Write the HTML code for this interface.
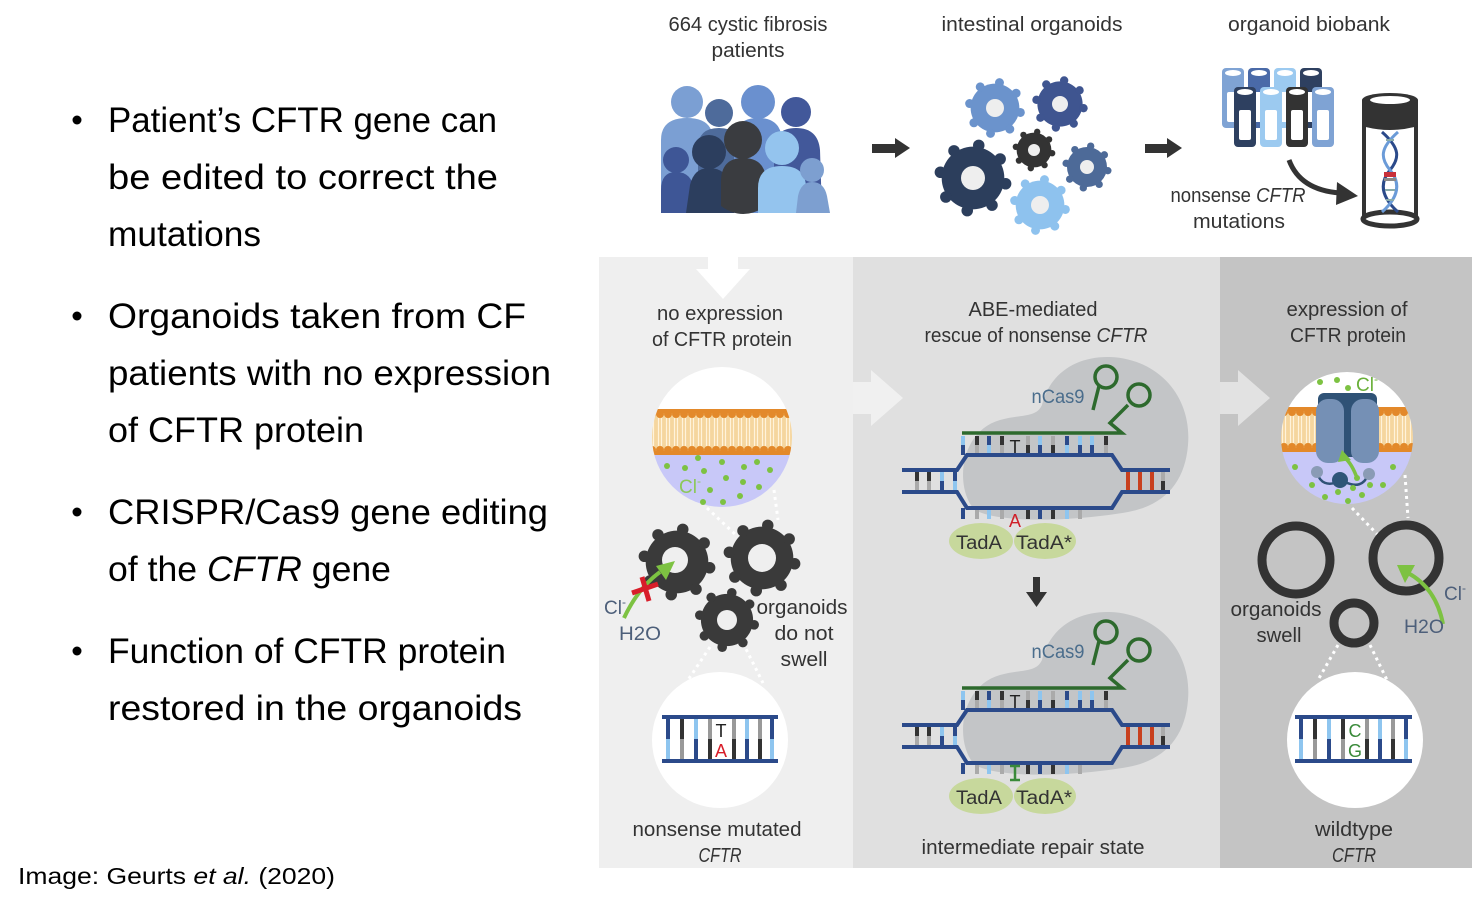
<!DOCTYPE html>
<html><head><meta charset="utf-8"><style>
html,body{margin:0;padding:0;background:#fff;}
svg{display:block;}
.l{font-family:"Liberation Sans",sans-serif;font-size:35px;fill:#000;}
.d{font-family:"Liberation Sans",sans-serif;font-size:20px;fill:#333;}
</style></head><body>
<svg width="1472" height="909" viewBox="0 0 1472 909" xmlns="http://www.w3.org/2000/svg">
<defs>
 <g id="gear">
  <circle r="0.87"/>
  <circle cx="0.906" cy="0.160" r="0.16"/>
  <circle cx="0.528" cy="0.754" r="0.16"/>
  <circle cx="-0.160" cy="0.906" r="0.16"/>
  <circle cx="-0.754" cy="0.528" r="0.16"/>
  <circle cx="-0.906" cy="-0.160" r="0.16"/>
  <circle cx="-0.528" cy="-0.754" r="0.16"/>
  <circle cx="0.160" cy="-0.906" r="0.16"/>
  <circle cx="0.754" cy="-0.528" r="0.16"/>
 </g>
 <clipPath id="c1"><circle cx="722" cy="437" r="70"/></clipPath>
 <clipPath id="c3"><circle cx="1347" cy="438" r="66"/></clipPath>
 <pattern id="m1" x="0" y="409" width="8" height="46" patternUnits="userSpaceOnUse">
  <rect width="8" height="46" fill="#f5d69e"/>
  <line x1="2.5" y1="9" x2="2.5" y2="37" stroke="#fff3da" stroke-width="1.2"/>
  <line x1="5.5" y1="9" x2="5.5" y2="37" stroke="#fff3da" stroke-width="1.2"/>
  <rect width="8" height="4" fill="#e3892a"/>
  <circle cx="4" cy="5" r="4" fill="#e3892a"/>
  <rect y="42" width="8" height="4" fill="#e3892a"/>
  <circle cx="4" cy="41" r="4" fill="#e3892a"/>
 </pattern>
 <pattern id="m3" x="0" y="407" width="8" height="45" patternUnits="userSpaceOnUse">
  <rect width="8" height="45" fill="#f5d69e"/>
  <line x1="2.5" y1="9" x2="2.5" y2="36" stroke="#fff3da" stroke-width="1.2"/>
  <line x1="5.5" y1="9" x2="5.5" y2="36" stroke="#fff3da" stroke-width="1.2"/>
  <rect width="8" height="4" fill="#e3892a"/>
  <circle cx="4" cy="5" r="4" fill="#e3892a"/>
  <rect y="41" width="8" height="4" fill="#e3892a"/>
  <circle cx="4" cy="40" r="4" fill="#e3892a"/>
 </pattern>
</defs>

<rect width="1472" height="909" fill="#fff"/>

<!-- LEFT TEXT -->
<circle cx="77" cy="120" r="4.5" fill="#000"/>
<text class="l" x="108" y="132" textLength="389" lengthAdjust="spacingAndGlyphs">Patient’s CFTR gene can</text>
<text class="l" x="108" y="189" textLength="390" lengthAdjust="spacingAndGlyphs">be edited to correct the</text>
<text class="l" x="108" y="246" textLength="153" lengthAdjust="spacingAndGlyphs">mutations</text>
<circle cx="77" cy="316" r="4.5" fill="#000"/>
<text class="l" x="108" y="328" textLength="418" lengthAdjust="spacingAndGlyphs">Organoids taken from CF</text>
<text class="l" x="108" y="385" textLength="443" lengthAdjust="spacingAndGlyphs">patients with no expression</text>
<text class="l" x="108" y="442" textLength="256" lengthAdjust="spacingAndGlyphs">of CFTR protein</text>
<circle cx="77" cy="512" r="4.5" fill="#000"/>
<text class="l" x="108" y="524" textLength="440" lengthAdjust="spacingAndGlyphs">CRISPR/Cas9 gene editing</text>
<text class="l" x="108" y="581" textLength="283" lengthAdjust="spacingAndGlyphs">of the <tspan font-style="italic">CFTR</tspan> gene</text>
<circle cx="77" cy="651" r="4.5" fill="#000"/>
<text class="l" x="108" y="663" textLength="398" lengthAdjust="spacingAndGlyphs">Function of CFTR protein</text>
<text class="l" x="108" y="720" textLength="414" lengthAdjust="spacingAndGlyphs">restored in the organoids</text>
<text x="18" y="884" font-family="Liberation Sans, sans-serif" font-size="23" fill="#000" textLength="317" lengthAdjust="spacingAndGlyphs">Image: Geurts <tspan font-style="italic">et al.</tspan> (2020)</text>

<!-- TOP SECTION -->
<text class="d" x="748" y="31" text-anchor="middle" textLength="159" lengthAdjust="spacingAndGlyphs">664 cystic fibrosis</text>
<text class="d" x="748" y="57" text-anchor="middle" textLength="73" lengthAdjust="spacingAndGlyphs">patients</text>
<text class="d" x="1032" y="31" text-anchor="middle" textLength="181" lengthAdjust="spacingAndGlyphs">intestinal organoids</text>
<text class="d" x="1309" y="31" text-anchor="middle" textLength="162" lengthAdjust="spacingAndGlyphs">organoid biobank</text>

<!-- people -->
<g>
 <circle cx="687" cy="102" r="16" fill="#7b9fd3"/><path d="M661,213 V140 Q661,118 687,118 Q713,118 713,140 V213Z" fill="#7b9fd3"/>
 <circle cx="719" cy="113" r="14" fill="#4e6b9b"/><path d="M698,213 V148 Q698,128 719,128 Q740,128 740,148 V213Z" fill="#4e6b9b"/>
 <circle cx="758" cy="102" r="17" fill="#6a90cf"/><path d="M734,213 V142 Q734,118 758,118 Q782,118 782,142 V213Z" fill="#6a90cf"/>
 <circle cx="796" cy="112" r="15" fill="#42589a"/><path d="M774,213 V150 Q774,128 796,128 Q818,128 820,150 L822,213Z" fill="#42589a"/>
 <circle cx="676" cy="160" r="13" fill="#3e5696"/><path d="M661,213 V190 Q661,172 676,172 Q692,172 694,190 V213Z" fill="#3e5696"/>
 <circle cx="709" cy="152" r="17" fill="#2c3e5e"/><path d="M686,213 L690,185 Q694,168 709,168 Q726,168 730,185 L734,213Z" fill="#2c3e5e"/>
 <circle cx="743" cy="140" r="19" fill="#3a3c40"/><path d="M721,206 V182 Q721,158 743,158 Q766,158 766,182 V206 Q743,222 721,206Z" fill="#3a3c40"/>
 <circle cx="782" cy="148" r="17" fill="#94c4ee"/><path d="M758,213 V188 Q758,166 782,166 Q806,166 806,188 V213Z" fill="#94c4ee"/>
 <circle cx="812" cy="170" r="12" fill="#7d9fd0"/><path d="M796,213 L798,196 Q801,182 812,182 Q824,182 827,196 L830,213Z" fill="#7d9fd0"/>
</g>

<!-- arrows top -->
<path d="M872,144 H895 V138 L910,148 L895,158 V153 H872Z" fill="#333"/>
<path d="M1145,144 H1167 V138 L1182,148 L1167,158 V153 H1145Z" fill="#333"/>

<!-- organoid gears top -->
<use href="#gear" transform="translate(995,108) scale(28)" fill="#6b93cc"/><circle cx="995" cy="108" r="9" fill="#eee"/>
<use href="#gear" transform="translate(1060,104) scale(26)" fill="#3f5590"/><circle cx="1060" cy="104" r="8" fill="#eee"/>
<use href="#gear" transform="translate(1034,150) scale(20)" fill="#333"/><circle cx="1034" cy="150" r="6" fill="#eee"/>
<use href="#gear" transform="translate(973,178) scale(36)" fill="#2c3e5c"/><circle cx="973" cy="178" r="12" fill="#eee"/>
<use href="#gear" transform="translate(1087,167) scale(23)" fill="#4d6a98"/><circle cx="1087" cy="167" r="7" fill="#eee"/>
<use href="#gear" transform="translate(1040,205) scale(28)" fill="#8ec2ee"/><circle cx="1040" cy="205" r="9" fill="#eee"/>

<!-- tubes -->
<g>
 <rect x="1222" y="68" width="22" height="60" rx="4" fill="#7fa3d4"/><ellipse cx="1233" cy="73" rx="8" ry="3" fill="#fff"/><rect x="1227" y="92" width="12" height="30" rx="2" fill="#fff"/>
 <rect x="1248" y="68" width="22" height="60" rx="4" fill="#4a6aa8"/><ellipse cx="1259" cy="73" rx="8" ry="3" fill="#fff"/><rect x="1253" y="92" width="12" height="30" rx="2" fill="#fff"/>
 <rect x="1274" y="68" width="22" height="60" rx="4" fill="#9ccaf0"/><ellipse cx="1285" cy="73" rx="8" ry="3" fill="#fff"/><rect x="1279" y="92" width="12" height="30" rx="2" fill="#fff"/>
 <rect x="1300" y="68" width="22" height="60" rx="4" fill="#2e4060"/><ellipse cx="1311" cy="73" rx="8" ry="3" fill="#fff"/><rect x="1305" y="92" width="12" height="30" rx="2" fill="#fff"/>
 <rect x="1234" y="87" width="22" height="60" rx="4" fill="#2e4060"/><ellipse cx="1245" cy="92" rx="8" ry="3" fill="#fff"/><rect x="1239" y="110" width="12" height="30" rx="2" fill="#fff"/>
 <rect x="1260" y="87" width="22" height="60" rx="4" fill="#9ccaf0"/><ellipse cx="1271" cy="92" rx="8" ry="3" fill="#fff"/><rect x="1265" y="110" width="12" height="30" rx="2" fill="#fff"/>
 <rect x="1286" y="87" width="22" height="60" rx="4" fill="#333"/><ellipse cx="1297" cy="92" rx="8" ry="3" fill="#fff"/><rect x="1291" y="110" width="12" height="30" rx="2" fill="#fff"/>
 <rect x="1312" y="87" width="22" height="60" rx="4" fill="#7fa3d4"/><ellipse cx="1323" cy="92" rx="8" ry="3" fill="#fff"/><rect x="1317" y="110" width="12" height="30" rx="2" fill="#fff"/>
</g>
<!-- big tube -->
<rect x="1364" y="115" width="52" height="105" fill="#fff" stroke="#333" stroke-width="4"/>
<path d="M1362,100 V126 Q1390,134 1418,126 V100Z" fill="#333"/>
<ellipse cx="1390" cy="100" rx="28" ry="7" fill="#333"/>
<ellipse cx="1390" cy="100" rx="20" ry="4" fill="#fff"/>
<ellipse cx="1390" cy="219" rx="27" ry="7" fill="#fff" stroke="#333" stroke-width="5"/>
<path d="M1382,132 C1400,148 1400,158 1390,170 C1380,182 1380,196 1398,212" stroke="#2b4a8a" stroke-width="3" fill="none"/>
<path d="M1398,132 C1380,148 1380,158 1390,170 C1400,182 1400,196 1382,212" stroke="#6b9bd8" stroke-width="3" fill="none"/>
<g stroke="#8aa" stroke-width="2">
 <line x1="1386" y1="140" x2="1394" y2="140"/><line x1="1385" y1="190" x2="1395" y2="190"/><line x1="1386" y1="200" x2="1394" y2="200"/>
</g>
<rect x="1384" y="172" width="12" height="5" fill="#c8303a"/>
<rect x="1384" y="178" width="12" height="3" fill="#888"/>
<path d="M1289,160 Q1300,190 1340,193" stroke="#333" stroke-width="5" fill="none"/>
<polygon points="1358,196 1337,182 1336,205" fill="#333"/>
<text class="d" x="1238" y="202" text-anchor="middle" textLength="135" lengthAdjust="spacingAndGlyphs">nonsense <tspan font-style="italic">CFTR</tspan></text>
<text class="d" x="1239" y="228" text-anchor="middle" textLength="92" lengthAdjust="spacingAndGlyphs">mutations</text>

<!-- PANELS -->
<rect x="599" y="257" width="254" height="611" fill="#efefef"/>
<rect x="853" y="257" width="367" height="611" fill="#e0e0e0"/>
<rect x="1220" y="257" width="252" height="611" fill="#c4c4c4"/>

<!-- panel1 down arrow -->
<path d="M708,257 H738 V269 H750 L723,299 L696,269 H708Z" fill="#fff"/>
<!-- arrow into panel 2 -->
<path d="M853,382 H871 V370 L903,398 L871,426 V414 H853Z" fill="#f0f0f0"/>
<!-- arrow into panel 3 -->
<path d="M1220,382 H1238 V370 L1270,398 L1238,426 V414 H1220Z" fill="#e2e2e2"/>

<!-- PANEL 1 -->
<text class="d" x="720" y="320" text-anchor="middle" textLength="126" lengthAdjust="spacingAndGlyphs">no expression</text>
<text class="d" x="722" y="346" text-anchor="middle" textLength="140" lengthAdjust="spacingAndGlyphs">of CFTR protein</text>
<g clip-path="url(#c1)">
 <rect x="650" y="365" width="145" height="44" fill="#fff"/>
 <rect x="650" y="409" width="145" height="46" fill="url(#m1)"/>
 <rect x="650" y="455" width="145" height="55" fill="#c8c8f8"/>
</g>
<g fill="#7dc242">
 <circle cx="667" cy="466" r="3"/><circle cx="685" cy="468" r="3"/><circle cx="698" cy="458" r="3"/><circle cx="704" cy="471" r="3"/>
 <circle cx="722" cy="462" r="3"/><circle cx="726" cy="478" r="3"/><circle cx="744" cy="467" r="3"/><circle cx="757" cy="462" r="3"/>
 <circle cx="770" cy="470" r="3"/><circle cx="743" cy="482" r="3"/><circle cx="759" cy="487" r="3"/><circle cx="710" cy="490" r="3"/>
 <circle cx="740" cy="496" r="3"/><circle cx="703" cy="502" r="3"/><circle cx="723" cy="502" r="3"/>
</g>
<text x="679" y="493" font-family="Liberation Sans, sans-serif" font-size="19" fill="#8cc85a">Cl<tspan dy="-8" font-size="12">-</tspan></text>
<g stroke="#fff" stroke-width="3" stroke-dasharray="3,4">
 <line x1="707" y1="508" x2="737" y2="536"/><line x1="774" y1="490" x2="778" y2="520"/>
 <line x1="710" y1="647" x2="688" y2="680"/><line x1="743" y1="643" x2="763" y2="683"/>
</g>
<use href="#gear" transform="translate(677,562) scale(36)" fill="#3a3a3a"/><circle cx="675" cy="560" r="13" fill="#efefef"/>
<use href="#gear" transform="translate(762,558) scale(36)" fill="#3a3a3a"/><circle cx="762" cy="558" r="14" fill="#efefef"/>
<use href="#gear" transform="translate(727,620) scale(30)" fill="#3a3a3a"/><circle cx="727" cy="620" r="10" fill="#efefef"/>
<path d="M624,618 Q638,588 660,572" stroke="#7dc242" stroke-width="4" fill="none"/>
<polygon points="675,561 656,566 666,580" fill="#7dc242"/>
<line x1="632" y1="593" x2="658" y2="584" stroke="#d81e2a" stroke-width="5"/>
<line x1="642" y1="577" x2="649" y2="601" stroke="#d81e2a" stroke-width="5"/>
<text x="604" y="614" font-family="Liberation Sans, sans-serif" font-size="19" fill="#4d5f7a">Cl<tspan dy="-8" font-size="12">-</tspan></text>
<text x="619" y="640" font-family="Liberation Sans, sans-serif" font-size="19" fill="#4d5f7a" textLength="42" lengthAdjust="spacingAndGlyphs">H2O</text>
<text class="d" x="802" y="614" text-anchor="middle" textLength="91" lengthAdjust="spacingAndGlyphs">organoids</text>
<text class="d" x="804" y="640" text-anchor="middle" textLength="59" lengthAdjust="spacingAndGlyphs">do not</text>
<text class="d" x="804" y="666" text-anchor="middle" textLength="47" lengthAdjust="spacingAndGlyphs">swell</text>
<circle cx="720" cy="740" r="68" fill="#fff"/>
<g transform="translate(662,717)">
 <g stroke-width="4">
  <line x1="20" y1="0" x2="20" y2="22" stroke="#333"/><line x1="20" y1="22" x2="20" y2="44" stroke="#999"/>
  <line x1="34" y1="0" x2="34" y2="22" stroke="#8ec5ef"/><line x1="34" y1="22" x2="34" y2="44" stroke="#2b4a8a"/>
  <line x1="48" y1="0" x2="48" y2="22" stroke="#999"/><line x1="48" y1="22" x2="48" y2="44" stroke="#333"/>
  <line x1="72" y1="0" x2="72" y2="22" stroke="#999"/><line x1="72" y1="22" x2="72" y2="44" stroke="#333"/>
  <line x1="85" y1="0" x2="85" y2="22" stroke="#8ec5ef"/><line x1="85" y1="22" x2="85" y2="44" stroke="#2b4a8a"/>
  <line x1="98" y1="0" x2="98" y2="22" stroke="#999"/><line x1="98" y1="22" x2="98" y2="44" stroke="#333"/>
  <line x1="6" y1="0" x2="6" y2="22" stroke="#2b4a8a"/><line x1="6" y1="22" x2="6" y2="44" stroke="#8ec5ef"/>
  <line x1="110" y1="0" x2="110" y2="22" stroke="#2b4a8a"/><line x1="110" y1="22" x2="110" y2="44" stroke="#8ec5ef"/>
  <line x1="0" y1="0" x2="116" y2="0" stroke="#2b4a8a"/><line x1="0" y1="44" x2="116" y2="44" stroke="#2b4a8a"/>
 </g>
 <text x="59" y="20" text-anchor="middle" font-family="Liberation Sans, sans-serif" font-size="18" fill="#222">T</text>
 <text x="59" y="40" text-anchor="middle" font-family="Liberation Sans, sans-serif" font-size="18" fill="#d81e2a">A</text>
</g>
<text class="d" x="717" y="836" text-anchor="middle" textLength="169" lengthAdjust="spacingAndGlyphs">nonsense mutated</text>
<text class="d" x="720" y="862" text-anchor="middle" font-style="italic" textLength="43" lengthAdjust="spacingAndGlyphs">CFTR</text>

<!-- PANEL 2 -->
<text class="d" x="1033" y="316" text-anchor="middle" textLength="129" lengthAdjust="spacingAndGlyphs">ABE-mediated</text>
<text class="d" x="1036" y="342" text-anchor="middle" textLength="223" lengthAdjust="spacingAndGlyphs">rescue of nonsense <tspan font-style="italic">CFTR</tspan></text>

<g>
 <path d="M975,510 C955,490 958,432 1000,420 C1022,414 1036,418 1042,405 C1050,372 1078,356 1110,357 C1160,359 1192,398 1188,445 C1185,482 1165,505 1128,512 C1078,521 1000,524 975,510Z" fill="#c3c5c7"/>
 <text x="1058" y="403" text-anchor="middle" font-family="Liberation Sans, sans-serif" font-size="19" fill="#4a6d8c" textLength="53" lengthAdjust="spacingAndGlyphs">nCas9</text>
 <g stroke="#2d6a2d" stroke-width="3.5" fill="none">
  <path d="M962,433 H1122 L1110,423 L1128,405"/>
  <circle cx="1139" cy="395" r="11"/>
  <circle cx="1106" cy="377" r="11"/>
  <path d="M1099,386 L1093,410"/>
 </g>
 <g stroke-width="4">
  <line x1="963" y1="436" x2="963" y2="445" stroke="#8ec5ef"/><line x1="963" y1="445" x2="963" y2="455" stroke="#2b4a8a"/>
  <line x1="977" y1="436" x2="977" y2="445" stroke="#333"/><line x1="977" y1="445" x2="977" y2="455" stroke="#aaa"/>
  <line x1="989" y1="436" x2="989" y2="445" stroke="#2b4a8a"/><line x1="989" y1="445" x2="989" y2="455" stroke="#8ec5ef"/>
  <line x1="1002" y1="436" x2="1002" y2="445" stroke="#333"/><line x1="1002" y1="445" x2="1002" y2="455" stroke="#aaa"/>
  <line x1="1028" y1="436" x2="1028" y2="445" stroke="#aaa"/><line x1="1028" y1="445" x2="1028" y2="455" stroke="#333"/>
  <line x1="1040" y1="436" x2="1040" y2="445" stroke="#8ec5ef"/><line x1="1040" y1="445" x2="1040" y2="455" stroke="#2b4a8a"/>
  <line x1="1053" y1="436" x2="1053" y2="445" stroke="#aaa"/><line x1="1053" y1="445" x2="1053" y2="455" stroke="#333"/>
  <line x1="1067" y1="436" x2="1067" y2="445" stroke="#2b4a8a"/><line x1="1067" y1="445" x2="1067" y2="455" stroke="#8ec5ef"/>
  <line x1="1080" y1="436" x2="1080" y2="445" stroke="#8ec5ef"/><line x1="1080" y1="445" x2="1080" y2="455" stroke="#2b4a8a"/>
  <line x1="1092" y1="436" x2="1092" y2="445" stroke="#8ec5ef"/><line x1="1092" y1="445" x2="1092" y2="455" stroke="#2b4a8a"/>
  <line x1="1106" y1="436" x2="1106" y2="445" stroke="#333"/><line x1="1106" y1="445" x2="1106" y2="455" stroke="#aaa"/>
  <line x1="917" y1="470" x2="917" y2="481" stroke="#333"/><line x1="917" y1="481" x2="917" y2="492" stroke="#aaa"/>
  <line x1="929" y1="470" x2="929" y2="481" stroke="#333"/><line x1="929" y1="481" x2="929" y2="492" stroke="#aaa"/>
  <line x1="942" y1="470" x2="942" y2="481" stroke="#8ec5ef"/><line x1="942" y1="481" x2="942" y2="492" stroke="#2b4a8a"/>
  <line x1="955" y1="470" x2="955" y2="481" stroke="#2b4a8a"/><line x1="955" y1="481" x2="955" y2="492" stroke="#8ec5ef"/>
  <line x1="1128" y1="470" x2="1128" y2="492" stroke="#c8401e"/>
  <line x1="1140" y1="470" x2="1140" y2="492" stroke="#c8401e"/>
  <line x1="1152" y1="470" x2="1152" y2="492" stroke="#c8401e"/>
  <line x1="1163" y1="470" x2="1163" y2="481" stroke="#aaa"/><line x1="1163" y1="481" x2="1163" y2="492" stroke="#333"/>
  <line x1="963" y1="508" x2="963" y2="519" stroke="#2b4a8a"/>
  <line x1="977" y1="508" x2="977" y2="519" stroke="#aaa"/>
  <line x1="989" y1="508" x2="989" y2="519" stroke="#8ec5ef"/>
  <line x1="1002" y1="508" x2="1002" y2="519" stroke="#aaa"/>
  <line x1="1028" y1="508" x2="1028" y2="519" stroke="#333"/>
  <line x1="1040" y1="508" x2="1040" y2="519" stroke="#2b4a8a"/>
  <line x1="1053" y1="508" x2="1053" y2="519" stroke="#333"/>
  <line x1="1067" y1="508" x2="1067" y2="519" stroke="#8ec5ef"/>
  <line x1="1080" y1="508" x2="1080" y2="519" stroke="#aaa"/>
 </g>
 <g stroke="#2b4a8a" stroke-width="4" fill="none">
  <path d="M902,470 H957 L967,455 H1112 L1122,470 H1170"/>
  <path d="M902,492 H957 L967,508 H1112 L1122,492 H1170"/>
 </g>
 <text x="1015" y="453" text-anchor="middle" font-family="Liberation Sans, sans-serif" font-size="18" fill="#222">T</text>
 <text x="1015" y="527" text-anchor="middle" font-family="Liberation Sans, sans-serif" font-size="18" fill="#d0202a">A</text>
 <ellipse cx="981" cy="541" rx="32" ry="18" fill="#c7d89c"/>
 <ellipse cx="1045" cy="541" rx="31" ry="18" fill="#c7d89c"/>
 <text x="979" y="549" text-anchor="middle" font-family="Liberation Sans, sans-serif" font-size="19" fill="#333" textLength="46" lengthAdjust="spacingAndGlyphs">TadA</text>
 <text x="1044" y="549" text-anchor="middle" font-family="Liberation Sans, sans-serif" font-size="19" fill="#333" textLength="56" lengthAdjust="spacingAndGlyphs">TadA*</text>
</g>

<path d="M1033,577 H1040 V592 H1047 L1036.5,607 L1026,592 H1033Z" fill="#333"/>

<g transform="translate(0,255)">
 <path d="M975,510 C955,490 958,432 1000,420 C1022,414 1036,418 1042,405 C1050,372 1078,356 1110,357 C1160,359 1192,398 1188,445 C1185,482 1165,505 1128,512 C1078,521 1000,524 975,510Z" fill="#c3c5c7"/>
 <text x="1058" y="403" text-anchor="middle" font-family="Liberation Sans, sans-serif" font-size="19" fill="#4a6d8c" textLength="53" lengthAdjust="spacingAndGlyphs">nCas9</text>
 <g stroke="#2d6a2d" stroke-width="3.5" fill="none">
  <path d="M962,433 H1122 L1110,423 L1128,405"/>
  <circle cx="1139" cy="395" r="11"/>
  <circle cx="1106" cy="377" r="11"/>
  <path d="M1099,386 L1093,410"/>
 </g>
 <g stroke-width="4">
  <line x1="963" y1="436" x2="963" y2="445" stroke="#8ec5ef"/><line x1="963" y1="445" x2="963" y2="455" stroke="#2b4a8a"/>
  <line x1="977" y1="436" x2="977" y2="445" stroke="#333"/><line x1="977" y1="445" x2="977" y2="455" stroke="#aaa"/>
  <line x1="989" y1="436" x2="989" y2="445" stroke="#2b4a8a"/><line x1="989" y1="445" x2="989" y2="455" stroke="#8ec5ef"/>
  <line x1="1002" y1="436" x2="1002" y2="445" stroke="#333"/><line x1="1002" y1="445" x2="1002" y2="455" stroke="#aaa"/>
  <line x1="1028" y1="436" x2="1028" y2="445" stroke="#aaa"/><line x1="1028" y1="445" x2="1028" y2="455" stroke="#333"/>
  <line x1="1040" y1="436" x2="1040" y2="445" stroke="#8ec5ef"/><line x1="1040" y1="445" x2="1040" y2="455" stroke="#2b4a8a"/>
  <line x1="1053" y1="436" x2="1053" y2="445" stroke="#aaa"/><line x1="1053" y1="445" x2="1053" y2="455" stroke="#333"/>
  <line x1="1067" y1="436" x2="1067" y2="445" stroke="#2b4a8a"/><line x1="1067" y1="445" x2="1067" y2="455" stroke="#8ec5ef"/>
  <line x1="1080" y1="436" x2="1080" y2="445" stroke="#8ec5ef"/><line x1="1080" y1="445" x2="1080" y2="455" stroke="#2b4a8a"/>
  <line x1="1092" y1="436" x2="1092" y2="445" stroke="#8ec5ef"/><line x1="1092" y1="445" x2="1092" y2="455" stroke="#2b4a8a"/>
  <line x1="1106" y1="436" x2="1106" y2="445" stroke="#333"/><line x1="1106" y1="445" x2="1106" y2="455" stroke="#aaa"/>
  <line x1="917" y1="470" x2="917" y2="481" stroke="#333"/><line x1="917" y1="481" x2="917" y2="492" stroke="#aaa"/>
  <line x1="929" y1="470" x2="929" y2="481" stroke="#333"/><line x1="929" y1="481" x2="929" y2="492" stroke="#aaa"/>
  <line x1="942" y1="470" x2="942" y2="481" stroke="#8ec5ef"/><line x1="942" y1="481" x2="942" y2="492" stroke="#2b4a8a"/>
  <line x1="955" y1="470" x2="955" y2="481" stroke="#2b4a8a"/><line x1="955" y1="481" x2="955" y2="492" stroke="#8ec5ef"/>
  <line x1="1128" y1="470" x2="1128" y2="492" stroke="#c8401e"/>
  <line x1="1140" y1="470" x2="1140" y2="492" stroke="#c8401e"/>
  <line x1="1152" y1="470" x2="1152" y2="492" stroke="#c8401e"/>
  <line x1="1163" y1="470" x2="1163" y2="481" stroke="#aaa"/><line x1="1163" y1="481" x2="1163" y2="492" stroke="#333"/>
  <line x1="963" y1="508" x2="963" y2="519" stroke="#2b4a8a"/>
  <line x1="977" y1="508" x2="977" y2="519" stroke="#aaa"/>
  <line x1="989" y1="508" x2="989" y2="519" stroke="#8ec5ef"/>
  <line x1="1002" y1="508" x2="1002" y2="519" stroke="#aaa"/>
  <line x1="1028" y1="508" x2="1028" y2="519" stroke="#333"/>
  <line x1="1040" y1="508" x2="1040" y2="519" stroke="#2b4a8a"/>
  <line x1="1053" y1="508" x2="1053" y2="519" stroke="#333"/>
  <line x1="1067" y1="508" x2="1067" y2="519" stroke="#8ec5ef"/>
  <line x1="1080" y1="508" x2="1080" y2="519" stroke="#aaa"/>
 </g>
 <g stroke="#2b4a8a" stroke-width="4" fill="none">
  <path d="M902,470 H957 L967,455 H1112 L1122,470 H1170"/>
  <path d="M902,492 H957 L967,508 H1112 L1122,492 H1170"/>
 </g>
 <text x="1015" y="453" text-anchor="middle" font-family="Liberation Sans, sans-serif" font-size="18" fill="#222">T</text>
 <g stroke="#3a8a3a" stroke-width="2.5">
  <line x1="1015" y1="511" x2="1015" y2="525"/><line x1="1010" y1="511" x2="1020" y2="511"/><line x1="1010" y1="525" x2="1020" y2="525"/>
 </g>
 <ellipse cx="981" cy="541" rx="32" ry="18" fill="#c7d89c"/>
 <ellipse cx="1045" cy="541" rx="31" ry="18" fill="#c7d89c"/>
 <text x="979" y="549" text-anchor="middle" font-family="Liberation Sans, sans-serif" font-size="19" fill="#333" textLength="46" lengthAdjust="spacingAndGlyphs">TadA</text>
 <text x="1044" y="549" text-anchor="middle" font-family="Liberation Sans, sans-serif" font-size="19" fill="#333" textLength="56" lengthAdjust="spacingAndGlyphs">TadA*</text>
</g>
<text class="d" x="1033" y="854" text-anchor="middle" textLength="223" lengthAdjust="spacingAndGlyphs">intermediate repair state</text>

<!-- PANEL 3 -->
<text class="d" x="1347" y="316" text-anchor="middle" textLength="121" lengthAdjust="spacingAndGlyphs">expression of</text>
<text class="d" x="1348" y="342" text-anchor="middle" textLength="116" lengthAdjust="spacingAndGlyphs">CFTR protein</text>
<g clip-path="url(#c3)">
 <rect x="1278" y="370" width="140" height="37" fill="#fff"/>
 <rect x="1278" y="407" width="140" height="45" fill="url(#m3)"/>
 <rect x="1278" y="452" width="140" height="60" fill="#c8c8f8"/>
</g>
<rect x="1318" y="393" width="59" height="64" rx="6" fill="#2f5276"/>
<rect x="1316" y="399" width="28" height="64" rx="12" fill="#7590b5"/>
<rect x="1351" y="399" width="28" height="64" rx="12" fill="#7590b5"/>
<path d="M1317,473 Q1322,488 1338,482 M1368,475 Q1362,490 1345,482" stroke="#2f5276" stroke-width="2.5" fill="none"/>
<circle cx="1317" cy="472" r="6" fill="#8a9bb5"/>
<circle cx="1369" cy="474" r="6" fill="#8a9bb5"/>
<circle cx="1340" cy="480" r="8" fill="#2e5578"/>
<g fill="#7dc242">
 <circle cx="1320" cy="382" r="3"/><circle cx="1337" cy="380" r="3"/><circle cx="1348" cy="388" r="3"/>
 <circle cx="1295" cy="467" r="3"/><circle cx="1312" cy="485" r="3"/><circle cx="1325" cy="497" r="3"/><circle cx="1338" cy="492" r="3"/>
 <circle cx="1348" cy="501" r="3"/><circle cx="1353" cy="488" r="3"/><circle cx="1362" cy="495" r="3"/><circle cx="1370" cy="485" r="3"/>
 <circle cx="1383" cy="485" r="3"/><circle cx="1393" cy="467" r="3"/><circle cx="1357" cy="478" r="3"/>
</g>
<path d="M1357,478 Q1352,464 1345,458" stroke="#7dc242" stroke-width="3.5" fill="none"/>
<polygon points="1342,450 1338,462 1351,460" fill="#7dc242"/>
<text x="1356" y="391" font-family="Liberation Sans, sans-serif" font-size="19" fill="#6ab03a">Cl<tspan dy="-8" font-size="12">-</tspan></text>
<g stroke="#fff" stroke-width="3" stroke-dasharray="3,4">
 <line x1="1352" y1="508" x2="1378" y2="535"/><line x1="1405" y1="475" x2="1408" y2="518"/>
 <line x1="1338" y1="645" x2="1318" y2="680"/><line x1="1370" y1="645" x2="1387" y2="680"/>
</g>
<g stroke="#333" stroke-width="9" fill="none">
 <circle cx="1296" cy="560" r="34"/>
 <circle cx="1406" cy="558" r="33"/>
 <circle cx="1354" cy="623" r="20"/>
</g>
<path d="M1443,624 Q1436,588 1408,573" stroke="#7dc242" stroke-width="4" fill="none"/>
<polygon points="1397,565 1415,565 1405,583" fill="#7dc242"/>
<text x="1444" y="600" font-family="Liberation Sans, sans-serif" font-size="19" fill="#4d5f7a">Cl<tspan dy="-8" font-size="12">-</tspan></text>
<text x="1404" y="633" font-family="Liberation Sans, sans-serif" font-size="19" fill="#4d5f7a" textLength="40" lengthAdjust="spacingAndGlyphs">H2O</text>
<text class="d" x="1276" y="616" text-anchor="middle" textLength="91" lengthAdjust="spacingAndGlyphs">organoids</text>
<text class="d" x="1279" y="642" text-anchor="middle" textLength="45" lengthAdjust="spacingAndGlyphs">swell</text>
<circle cx="1355" cy="740" r="68" fill="#fff"/>
<g transform="translate(1295,717)">
 <g stroke-width="4">
  <line x1="20" y1="0" x2="20" y2="22" stroke="#333"/><line x1="20" y1="22" x2="20" y2="44" stroke="#999"/>
  <line x1="34" y1="0" x2="34" y2="22" stroke="#8ec5ef"/><line x1="34" y1="22" x2="34" y2="44" stroke="#2b4a8a"/>
  <line x1="48" y1="0" x2="48" y2="22" stroke="#333"/><line x1="48" y1="22" x2="48" y2="44" stroke="#999"/>
  <line x1="72" y1="0" x2="72" y2="22" stroke="#999"/><line x1="72" y1="22" x2="72" y2="44" stroke="#333"/>
  <line x1="85" y1="0" x2="85" y2="22" stroke="#8ec5ef"/><line x1="85" y1="22" x2="85" y2="44" stroke="#2b4a8a"/>
  <line x1="98" y1="0" x2="98" y2="22" stroke="#999"/><line x1="98" y1="22" x2="98" y2="44" stroke="#333"/>
  <line x1="6" y1="0" x2="6" y2="22" stroke="#2b4a8a"/><line x1="6" y1="22" x2="6" y2="44" stroke="#8ec5ef"/>
  <line x1="111" y1="0" x2="111" y2="22" stroke="#2b4a8a"/><line x1="111" y1="22" x2="111" y2="44" stroke="#8ec5ef"/>
  <line x1="0" y1="0" x2="117" y2="0" stroke="#2b4a8a"/><line x1="0" y1="44" x2="117" y2="44" stroke="#2b4a8a"/>
 </g>
 <text x="60" y="20" text-anchor="middle" font-family="Liberation Sans, sans-serif" font-size="18" fill="#3a8a3a">C</text>
 <text x="60" y="40" text-anchor="middle" font-family="Liberation Sans, sans-serif" font-size="18" fill="#3a8a3a">G</text>
</g>
<text class="d" x="1354" y="836" text-anchor="middle" textLength="78" lengthAdjust="spacingAndGlyphs">wildtype</text>
<text class="d" x="1354" y="862" text-anchor="middle" font-style="italic" textLength="44" lengthAdjust="spacingAndGlyphs">CFTR</text>
</svg>
</body></html>
